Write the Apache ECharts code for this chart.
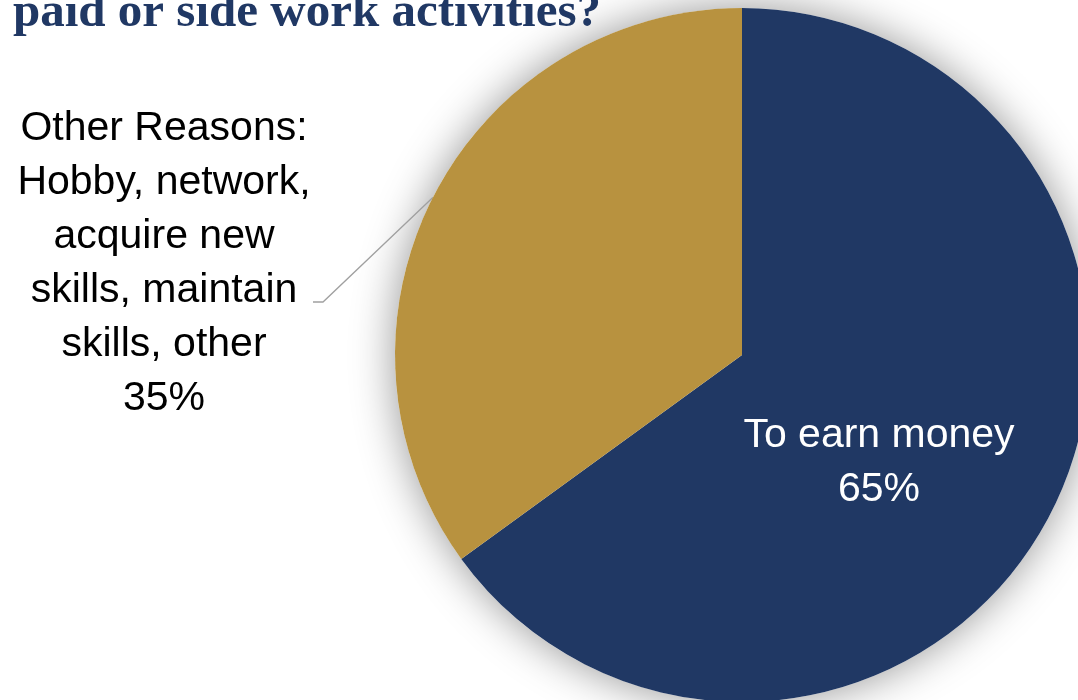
<!DOCTYPE html>
<html>
<head>
<meta charset="utf-8">
<title>Side work reasons</title>
<script src="https://cdn.jsdelivr.net/npm/echarts@6/dist/echarts.min.js"></script>
<style>
  html, body { margin: 0; padding: 0; background: #ffffff; }
  #chart { width: 1078px; height: 700px; }
</style>
</head>
<body>
<div id="chart"></div>
<script>
// Survey answers: why people take on paid or side work
const categories = [
  'To earn money',
  'Other Reasons:\nHobby, network,\nacquire new\nskills, maintain\nskills, other'
];
const shares = [65, 35];
const sliceColors = ['#203864', '#b8923f'];
const titleText = 'paid or side work activities?';

const labelFont = "'Liberation Sans', Arial, sans-serif";
const center = [742, 355];
const radius = 347;

const chart = echarts.init(document.getElementById('chart'), null, { renderer: 'canvas' });

const pieData = categories.map((name, i) => ({
  name: name,
  value: shares[i],
  itemStyle: { color: sliceColors[i] },
  label: i === 0
    ? { position: 'inside', color: '#ffffff' }
    : { position: 'outside', color: '#000000' },
  labelLine: { show: i !== 0 }
}));

chart.setOption({
  backgroundColor: '#ffffff',
  animation: false,
  title: {
    text: titleText,
    left: 8,
    top: -16,
    textStyle: {
      fontFamily: "'Liberation Serif', 'DejaVu Serif', serif",
      fontWeight: 'bold',
      fontSize: 49,
      color: '#203864'
    }
  },
  series: [
    {
      // soft drop shadow under the whole disc
      type: 'pie',
      silent: true,
      z: 1,
      center: center,
      radius: radius,
      label: { show: false },
      labelLine: { show: false },
      data: [{ value: shares.reduce((a, b) => a + b, 0) }],
      itemStyle: {
        color: '#ffffff',
        shadowBlur: 44,
        shadowColor: 'rgba(0,0,0,0.42)'
      }
    },
    {
      type: 'pie',
      z: 2,
      center: center,
      radius: radius,
      startAngle: 90,
      clockwise: true,
      data: pieData,
      label: {
        formatter: '{b}\n{c}%',
        fontFamily: labelFont,
        fontSize: 41,
        lineHeight: 54,
        align: 'center'
      },
      labelLine: {
        lineStyle: { color: '#a0a0a0', width: 1.3 }
      },
      labelLayout: function (p) {
        if (p.dataIndex === 0) {
          return { x: 879, y: 463, align: 'center', verticalAlign: 'middle' };
        }
        const pts = p.labelLinePoints;
        const start = pts ? pts[0] : [433, 197];
        return {
          x: 164,
          y: 264,
          align: 'center',
          verticalAlign: 'middle',
          labelLinePoints: [start, [323, 302], [313, 302]]
        };
      },
      itemStyle: { borderWidth: 0 }
    }
  ]
});
</script>
</body>
</html>
